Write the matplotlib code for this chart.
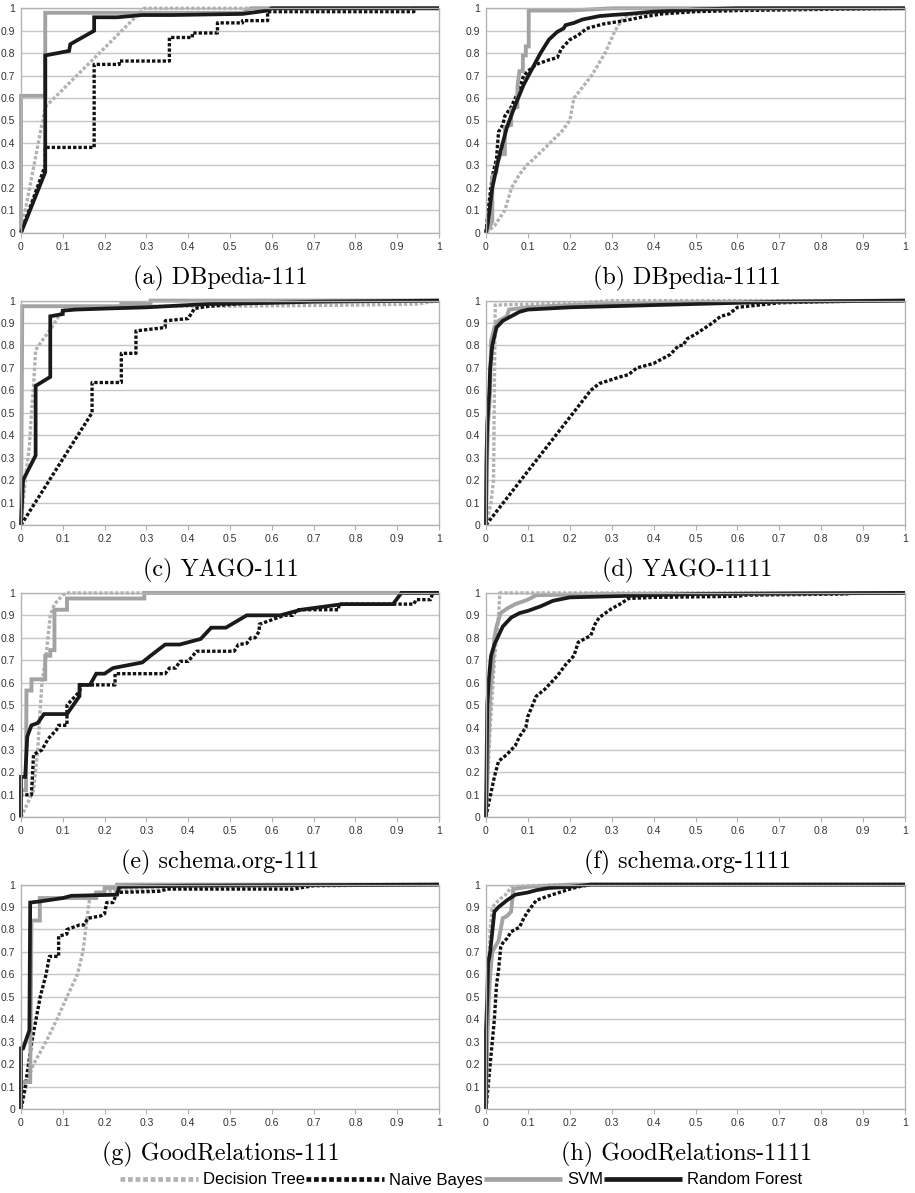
import matplotlib
matplotlib.use('Agg')
import matplotlib.pyplot as plt
from matplotlib.lines import Line2D

# --- data (false positive rate -> true positive rate) ---
captions = ['(a) DBpedia-111', '(b) DBpedia-1111', '(c) YAGO-111', '(d) YAGO-1111',
            '(e) schema.org-111', '(f) schema.org-1111',
            '(g) GoodRelations-111', '(h) GoodRelations-1111']
series_names = ['Decision Tree', 'Naive Bayes', 'SVM', 'Random Forest']
ticks = [0, 0.1, 0.2, 0.3, 0.4, 0.5, 0.6, 0.7, 0.8, 0.9, 1]
tick_labels = ['0', '0.1', '0.2', '0.3', '0.4', '0.5', '0.6', '0.7', '0.8', '0.9', '1']

# (a) DBpedia-111
a_dt_x = [0, 0.058, 0.295, 1]
a_dt_y = [0, 0.56, 1.0, 1.0]
a_nb_x = [0, 0.058, 0.058, 0.175, 0.175, 0.235, 0.235, 0.355, 0.355, 0.41, 0.41, 0.47, 0.47, 0.53, 0.53, 0.59, 0.59, 0.94, 0.94, 1]
a_nb_y = [0, 0.30, 0.38, 0.38, 0.75, 0.75, 0.765, 0.765, 0.87, 0.87, 0.89, 0.89, 0.935, 0.935, 0.945, 0.945, 0.985, 0.985, 1.0, 1.0]
a_svm_x = [0, 0, 0.058, 0.058, 0.53, 0.55, 1]
a_svm_y = [0, 0.61, 0.61, 0.98, 0.98, 1.0, 1.0]
a_rf_x = [0, 0.058, 0.058, 0.115, 0.118, 0.175, 0.175, 0.23, 0.29, 0.36, 0.53, 0.59, 0.6, 1]
a_rf_y = [0, 0.27, 0.79, 0.81, 0.84, 0.90, 0.96, 0.96, 0.97, 0.97, 0.975, 0.99, 1.0, 1.0]

# (b) DBpedia-1111
b_dt_x = [0, 0.02, 0.045, 0.061, 0.08, 0.097, 0.12, 0.153, 0.18, 0.2, 0.21, 0.252, 0.284, 0.308, 0.325, 0.34, 0.4, 0.5, 0.7, 1]
b_dt_y = [0, 0.03, 0.1, 0.2, 0.26, 0.3, 0.34, 0.4, 0.45, 0.5, 0.6, 0.7, 0.8, 0.9, 0.95, 0.97, 0.98, 0.99, 1.0, 1.0]
b_nb_x = [0, 0.005, 0.015, 0.025, 0.03, 0.04, 0.045, 0.06, 0.075, 0.09, 0.1, 0.12, 0.15, 0.17, 0.18, 0.2, 0.22, 0.24, 0.28, 0.33, 0.37, 0.42, 0.5, 0.6, 0.8, 1]
b_nb_y = [0, 0.1, 0.25, 0.33, 0.45, 0.48, 0.52, 0.56, 0.62, 0.70, 0.72, 0.75, 0.77, 0.78, 0.82, 0.86, 0.88, 0.91, 0.93, 0.945, 0.96, 0.975, 0.985, 0.99, 0.995, 1.0]
b_svm_x = [0, 0.015, 0.015, 0.025, 0.025, 0.035, 0.045, 0.045, 0.06, 0.06, 0.075, 0.075, 0.08, 0.088, 0.088, 0.095, 0.095, 0.102, 0.102, 0.2, 0.3, 1]
b_svm_y = [0, 0.05, 0.25, 0.27, 0.30, 0.35, 0.35, 0.47, 0.48, 0.55, 0.56, 0.65, 0.72, 0.72, 0.79, 0.79, 0.83, 0.83, 0.99, 0.99, 1.0, 1.0]
b_rf_x = [0, 0.005, 0.015, 0.03, 0.05, 0.07, 0.09, 0.11, 0.13, 0.15, 0.17, 0.185, 0.19, 0.21, 0.23, 0.27, 0.3, 0.34, 0.4, 0.5, 0.6, 1]
b_rf_y = [0, 0.05, 0.2, 0.33, 0.47, 0.57, 0.66, 0.73, 0.80, 0.86, 0.895, 0.91, 0.925, 0.935, 0.95, 0.965, 0.97, 0.975, 0.985, 0.995, 1.0, 1.0]

# (c) YAGO-111
c_dt_x = [0, 0.01, 0.02, 0.025, 0.03, 0.035, 0.05, 0.07, 0.09, 0.1, 0.12, 0.3, 0.5, 0.8, 0.95, 1]
c_dt_y = [0, 0.2, 0.35, 0.5, 0.62, 0.78, 0.82, 0.87, 0.93, 0.955, 0.97, 0.975, 0.975, 0.98, 0.985, 1.0]
c_nb_x = [0, 0.17, 0.17, 0.24, 0.24, 0.275, 0.275, 0.345, 0.345, 0.4, 0.415, 0.45, 0.55, 0.56, 1]
c_nb_y = [0, 0.5, 0.635, 0.635, 0.765, 0.765, 0.865, 0.88, 0.91, 0.92, 0.965, 0.975, 0.99, 1.0, 1.0]
c_svm_x = [0, 0.003, 0.24, 0.24, 0.31, 0.31, 1]
c_svm_y = [0, 0.975, 0.975, 0.985, 0.985, 1.0, 1.0]
c_rf_x = [0, 0.005, 0.035, 0.035, 0.07, 0.07, 0.1, 0.1, 0.13, 0.21, 0.3, 0.45, 0.6, 0.7, 1]
c_rf_y = [0, 0.2, 0.31, 0.62, 0.66, 0.93, 0.94, 0.955, 0.96, 0.965, 0.97, 0.985, 0.99, 0.995, 1.0]

# (d) YAGO-1111
d_dt_x = [0, 0.012, 0.018, 0.02, 0.022, 0.22, 0.3, 1]
d_dt_y = [0, 0.1, 0.2, 0.6, 0.98, 0.99, 1.0, 1.0]
d_nb_x = [0, 0.25, 0.27, 0.32, 0.34, 0.36, 0.4, 0.44, 0.46, 0.47, 0.48, 0.5, 0.54, 0.56, 0.58, 0.6, 0.65, 0.7, 0.8, 1]
d_nb_y = [0, 0.6, 0.63, 0.66, 0.67, 0.7, 0.72, 0.76, 0.8, 0.8, 0.83, 0.85, 0.9, 0.93, 0.94, 0.97, 0.98, 0.99, 0.995, 1.0]
d_svm_x = [0, 0.002, 0.005, 0.01, 0.012, 0.02, 0.03, 0.05, 0.055, 0.1, 0.2, 0.4, 0.6, 1]
d_svm_y = [0, 0.25, 0.45, 0.6, 0.82, 0.88, 0.91, 0.93, 0.96, 0.97, 0.98, 0.99, 0.995, 1.0]
d_rf_x = [0, 0.001, 0.003, 0.008, 0.01, 0.015, 0.025, 0.04, 0.06, 0.08, 0.1, 0.2, 0.3, 0.5, 0.6, 0.7, 1]
d_rf_y = [0, 0.28, 0.45, 0.6, 0.7, 0.8, 0.88, 0.91, 0.93, 0.95, 0.96, 0.97, 0.975, 0.985, 0.99, 0.995, 1.0]

# (e) schema.org-111
e_dt_x = [0, 0.02, 0.03, 0.04, 0.045, 0.05, 0.06, 0.07, 0.08, 0.1, 0.11, 1]
e_dt_y = [0, 0.08, 0.12, 0.3, 0.45, 0.6, 0.72, 0.9, 0.95, 0.99, 1.0, 1.0]
e_nb_x = [0, 0, 0.025, 0.03, 0.05, 0.065, 0.085, 0.09, 0.11, 0.11, 0.14, 0.145, 0.225, 0.225, 0.345, 0.355, 0.37, 0.38,
          0.4, 0.42, 0.51, 0.52, 0.54, 0.55, 0.56, 0.57, 0.57, 0.6, 0.63, 0.65, 0.66, 0.76, 0.76, 0.94, 0.945, 0.98, 0.985, 1]
e_nb_y = [0, 0.1, 0.1, 0.28, 0.3, 0.35, 0.39, 0.41, 0.41, 0.5, 0.56, 0.59, 0.59, 0.64, 0.64, 0.665, 0.665, 0.695,
          0.695, 0.74, 0.74, 0.77, 0.775, 0.8, 0.8, 0.83, 0.86, 0.88, 0.9, 0.9, 0.925, 0.925, 0.95, 0.95, 0.97, 0.97, 1.0, 1.0]
e_svm_x = [0, 0, 0.012, 0.013, 0.025, 0.025, 0.058, 0.058, 0.07, 0.07, 0.08, 0.08, 0.11, 0.11, 0.295, 0.295, 1]
e_svm_y = [0, 0.12, 0.12, 0.565, 0.565, 0.615, 0.615, 0.72, 0.72, 0.745, 0.745, 0.925, 0.925, 0.975, 0.975, 1.0, 1.0]
e_rf_x = [0, 0, 0.01, 0.015, 0.025, 0.04, 0.055, 0.11, 0.14, 0.14, 0.165, 0.18, 0.2, 0.22, 0.29, 0.31, 0.345, 0.38,
          0.43, 0.455, 0.49, 0.54, 0.62, 0.67, 0.77, 0.89, 0.91, 1]
e_rf_y = [0, 0.18, 0.18, 0.36, 0.41, 0.42, 0.46, 0.46, 0.54, 0.59, 0.59, 0.64, 0.64, 0.665, 0.69, 0.72, 0.77, 0.77,
          0.795, 0.845, 0.845, 0.9, 0.9, 0.925, 0.95, 0.95, 1.0, 1.0]

# (f) schema.org-1111
f_dt_x = [0, 0.01, 0.02, 0.025, 0.03, 0.033, 1]
f_dt_y = [0, 0.4, 0.7, 0.8, 0.9, 1.0, 1.0]
f_nb_x = [0, 0.005, 0.02, 0.03, 0.05, 0.07, 0.08, 0.095, 0.1, 0.12, 0.14, 0.17, 0.19, 0.21, 0.22, 0.25, 0.26, 0.27,
          0.3, 0.32, 0.34, 0.4, 0.6, 0.62, 0.86, 0.87, 1]
f_nb_y = [0, 0.05, 0.18, 0.25, 0.28, 0.32, 0.36, 0.4, 0.45, 0.54, 0.57, 0.63, 0.68, 0.72, 0.78, 0.81, 0.86, 0.89,
          0.93, 0.95, 0.975, 0.98, 0.985, 0.99, 0.995, 1.0, 1.0]
f_svm_x = [0, 0.005, 0.01, 0.015, 0.02, 0.025, 0.035, 0.05, 0.07, 0.1, 0.12, 0.3, 1]
f_svm_y = [0, 0.3, 0.55, 0.65, 0.8, 0.85, 0.91, 0.93, 0.95, 0.97, 0.99, 0.995, 1.0]
f_rf_x = [0, 0.003, 0.007, 0.012, 0.02, 0.03, 0.04, 0.06, 0.08, 0.1, 0.13, 0.16, 0.2, 0.3, 0.4, 0.5, 1]
f_rf_y = [0, 0.5, 0.62, 0.72, 0.77, 0.81, 0.85, 0.89, 0.91, 0.92, 0.94, 0.965, 0.98, 0.985, 0.99, 0.995, 1.0]

# (g) GoodRelations-111
g_dt_x = [0, 0.015, 0.02, 0.03, 0.06, 0.086, 0.11, 0.135, 0.148, 0.155, 0.16, 0.165, 0.2, 0.3, 0.5, 0.7, 1]
g_dt_y = [0, 0.12, 0.15, 0.2, 0.3, 0.4, 0.5, 0.6, 0.7, 0.8, 0.88, 0.95, 0.97, 0.98, 0.99, 1.0, 1.0]
g_nb_x = [0, 0.01, 0.026, 0.046, 0.06, 0.068, 0.09, 0.09, 0.11, 0.11, 0.14, 0.15, 0.16, 0.19, 0.2, 0.205, 0.22, 0.23, 0.33, 0.35, 0.65, 0.7, 1]
g_nb_y = [0, 0.1, 0.3, 0.5, 0.6, 0.68, 0.68, 0.77, 0.78, 0.80, 0.82, 0.82, 0.85, 0.86, 0.87, 0.92, 0.92, 0.965, 0.97, 0.98, 0.98, 0.995, 1.0]
g_svm_x = [0, 0, 0.022, 0.025, 0.045, 0.045, 0.18, 0.18, 0.2, 0.2, 0.23, 0.23, 1]
g_svm_y = [0, 0.12, 0.12, 0.84, 0.84, 0.94, 0.94, 0.965, 0.965, 0.985, 0.985, 1.0, 1.0]
g_rf_x = [0, 0, 0.005, 0.02, 0.022, 0.045, 0.1, 0.12, 0.23, 0.235, 0.4, 1]
g_rf_y = [0, 0.27, 0.27, 0.35, 0.92, 0.925, 0.94, 0.95, 0.955, 0.99, 0.995, 1.0]

# (h) GoodRelations-1111
h_dt_x = [0, 0.003, 0.006, 0.01, 0.015, 0.03, 0.05, 0.06, 0.1, 0.2, 1]
h_dt_y = [0, 0.3, 0.6, 0.8, 0.9, 0.93, 0.96, 0.99, 0.995, 1.0, 1.0]
h_nb_x = [0, 0.01, 0.02, 0.025, 0.03, 0.035, 0.04, 0.05, 0.06, 0.08, 0.09, 0.1, 0.12, 0.15, 0.2, 0.22, 0.25, 1]
h_nb_y = [0, 0.2, 0.4, 0.55, 0.62, 0.72, 0.74, 0.76, 0.79, 0.81, 0.85, 0.88, 0.93, 0.95, 0.98, 0.99, 1.0, 1.0]
h_svm_x = [0, 0.003, 0.007, 0.01, 0.015, 0.03, 0.04, 0.05, 0.06, 0.065, 0.1, 0.2, 1]
h_svm_y = [0, 0.3, 0.5, 0.6, 0.7, 0.75, 0.85, 0.86, 0.88, 0.98, 0.99, 1.0, 1.0]
h_rf_x = [0, 0, 0.003, 0.005, 0.01, 0.02, 0.03, 0.05, 0.07, 0.1, 0.12, 0.15, 0.2, 0.25, 1]
h_rf_y = [0, 0.35, 0.5, 0.65, 0.7, 0.88, 0.9, 0.93, 0.955, 0.965, 0.975, 0.985, 0.99, 1.0, 1.0]

panels = [
    [(a_dt_x, a_dt_y), (a_nb_x, a_nb_y), (a_svm_x, a_svm_y), (a_rf_x, a_rf_y)],
    [(b_dt_x, b_dt_y), (b_nb_x, b_nb_y), (b_svm_x, b_svm_y), (b_rf_x, b_rf_y)],
    [(c_dt_x, c_dt_y), (c_nb_x, c_nb_y), (c_svm_x, c_svm_y), (c_rf_x, c_rf_y)],
    [(d_dt_x, d_dt_y), (d_nb_x, d_nb_y), (d_svm_x, d_svm_y), (d_rf_x, d_rf_y)],
    [(e_dt_x, e_dt_y), (e_nb_x, e_nb_y), (e_svm_x, e_svm_y), (e_rf_x, e_rf_y)],
    [(f_dt_x, f_dt_y), (f_nb_x, f_nb_y), (f_svm_x, f_svm_y), (f_rf_x, f_rf_y)],
    [(g_dt_x, g_dt_y), (g_nb_x, g_nb_y), (g_svm_x, g_svm_y), (g_rf_x, g_rf_y)],
    [(h_dt_x, h_dt_y), (h_nb_x, h_nb_y), (h_svm_x, h_svm_y), (h_rf_x, h_rf_y)],
]

# line look per classifier
styles = [
    dict(color='#b2b2b2', lw=2.4, linestyle=(0, (1.0, 0.6))),
    dict(color='#111111', lw=2.4, linestyle=(0, (1.0, 0.6))),
    dict(color='#a3a3a3', lw=2.8, linestyle='-'),
    dict(color='#1a1a1a', lw=2.7, linestyle='-'),
]

W, H = 915, 1193
fig = plt.figure(figsize=(W / 100, H / 100), dpi=100)

lefts = [21 / W, 486 / W]
widths = [418 / W, 419 / W]
bottoms_px = [232.7, 525, 817.3, 1109]
height = 224.4 / H
cap_x = [220.5 / W, 687 / W]

for i, series in enumerate(panels):
    row, col = i // 2, i % 2
    ax = fig.add_axes([lefts[col], 1 - bottoms_px[row] / H, widths[col], height])
    ax.set_xlim(0, 1)
    ax.set_ylim(0, 1)
    ax.set_yticks(ticks)
    ax.set_xticks(ticks)
    ax.set_xticklabels(tick_labels)
    ax.set_yticklabels(tick_labels)
    ax.grid(axis='y', color='#c6c6c6', lw=1.0)
    ax.set_axisbelow(True)
    for sp in ax.spines.values():
        sp.set_color('#b3b3b3')
        sp.set_linewidth(1.0)
    ax.tick_params(axis='x', length=3.4, width=0.8, color='#b3b3b3', pad=3,
                   labelsize=7.5, labelcolor='#333333')
    ax.tick_params(axis='y', length=0, pad=4.3, labelsize=7.5, labelcolor='#333333')
    for lab in ax.get_xticklabels() + ax.get_yticklabels():
        lab.set_fontfamily('Liberation Sans')
    for (x, y), st in zip(series, styles):
        ax.plot(x, y, clip_on=False, solid_capstyle='butt', dash_capstyle='butt',
                solid_joinstyle='miter', **st)
    fig.text(cap_x[col], 1 - (bottoms_px[row] + 45.3) / H, captions[i],
             ha='center', va='center', fontfamily='cmr10', fontsize=17.4)

handles = [Line2D([], [], solid_capstyle='butt', dash_capstyle='butt', **st) for st in styles]
for hd in handles:
    hd.set_linewidth(3.4)
leg = fig.legend(handles, series_names, loc='center', bbox_to_anchor=(461 / W, 1 - 1180 / H),
                 ncol=4, frameon=False, handlelength=4.7, handletextpad=0.3,
                 columnspacing=0.05, borderpad=0, borderaxespad=0,
                 prop={'family': 'Liberation Sans', 'size': 12})

fig.savefig('out.png', dpi=100)
